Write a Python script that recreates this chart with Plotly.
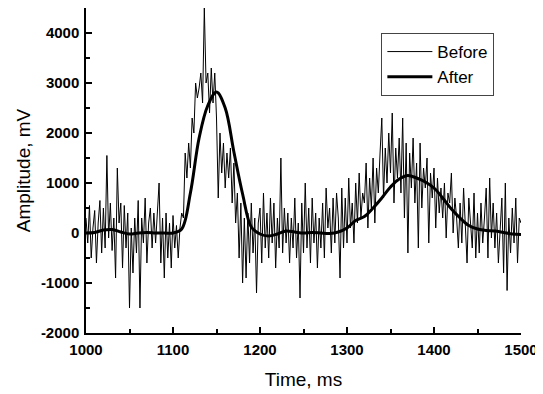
import plotly.graph_objects as go

# Time samples (ms)
time_before = list(range(1000, 1501, 2))
amp_before = [
    300, -200, 550, -500, 100, 450, -600, 200, 650, -400,
    500, -300, 1550, -100, 600, -350, 300, -900, 1300, 200,
    600, -700, 550, -300, 400, -1500, 100, -800, 300, -400,
    650, -1500, 300, -200, 700, -600, 200, 500, -300, 400,
    -200, 550, 1000, -600, 300, -900, 400, -500, 200, -700,
    350, -300, 150, -500, 100,
    400, 300, 1600, 1100, 1800, 1300, 2300, 2000, 3000, 2700,
    2900, 3200, 2600, 4500, 3000, 3200, 2400, 3300, 2600, 3200,
    2300, 700, 2000, 1200, 1800, 900, 1600, 1100, 1700, 600,
    1400, 200, 800, -500, 600, -1000, 300, -900, 400, -600,
    600, -400, 300, -1200, 200, 500, -600, 800, -300, 400,
    -500, 700, -200, 600, -700, 300, -300, 1500, -400, 500,
    -200, 400, -600, 300, -300, 700, -500, 200, -1300, 600,
    -400, 1000, -300, 500, -600, 700, -200, 400, -700, 300,
    -300, 600, -500, 900, 100, 500, -400, 700, -200, 800,
    300, -900, 900, -300, 700, -200, 1100, 100, 600, -200,
    1000, 200, 1200, 300, 800, 600, 1400, 100, 1100, 500,
    1500, 200, 1300, 800, 1600, 2300, 700, 1700, 1000, 2000,
    1200, 2400, 600, 1700, 1100, 1900, 800, 2300, 300, 1800,
    -400, 1600, 900, 1900, 600, 1400, -300, 1800, 500, 1300,
    900, 1500, -200, 1200, 700, 1300, 100, 1100, 400, 900,
    300, 1000, -100, 800, 600, 1200, 0, 700, 300, -300,
    600, -200, 900, 100, -600, 700, 200, -300, 800, -500,
    400, -400, 600, -200, 300, 900, -500, 1100, -100, 600,
    -300, 400, -600, 200, 700, -800, 1000, -1150, 300, -400,
    500, -200, 700, -600, 300, 200,
]

time_after = list(range(1000, 1501, 10))
amp_after = [
    0, 10, 60, 70, 20, -20, 0, 10, 0, 0,
    0, 80, 800, 1900, 2550, 2820, 2500, 1620, 780, 120,
    -20, -60, -20, 40, 20, 0, 10, 0, -10, 20,
    100, 250, 330, 500, 700, 920, 1080, 1150, 1100, 1020,
    900, 700, 480, 300, 150, 80, 50, 40, 10, -20,
    -30,
]

x_ticks = [1000, 1100, 1200, 1300, 1400, 1500]
y_ticks = [-2000, -1000, 0, 1000, 2000, 3000, 4000]

assert len(time_before) == len(amp_before)
assert len(time_after) == len(amp_after)

FONT = "Liberation Sans, Arial, sans-serif"

fig = go.Figure()
fig.add_trace(go.Scatter(
    x=time_before, y=amp_before, mode="lines", name="Before",
    line=dict(color="black", width=1),
))
fig.add_trace(go.Scatter(
    x=time_after, y=amp_after, mode="lines", name="After",
    line=dict(color="black", width=3, shape="spline", smoothing=1.0),
))

axis_common = dict(
    showgrid=False, zeroline=False, showline=True, linecolor="black",
    linewidth=1.5, ticks="inside", ticklen=6, tickwidth=1.5, tickcolor="black",
    mirror=False, automargin=False,
    tickfont=dict(family=FONT, size=15, color="black", weight="bold"),
)

fig.update_xaxes(
    range=[1000, 1500], tickvals=x_ticks,
    ticktext=[str(v) for v in x_ticks],
    ticklabelstandoff=2,
    minor=dict(dtick=50, ticks="inside", ticklen=4, tickwidth=1.5, tickcolor="black"),
    title=dict(text="Time, ms", font=dict(family=FONT, size=19, color="black"), standoff=16),
    **axis_common,
)
fig.update_yaxes(
    range=[-2000, 4500], tickvals=y_ticks,
    ticktext=[str(v) for v in y_ticks],
    ticklabelstandoff=2,
    minor=dict(dtick=500, ticks="inside", ticklen=4, tickwidth=1.5, tickcolor="black"),
    title=dict(text="Amplitude, mV", font=dict(family=FONT, size=19, color="black"), standoff=5),
    **axis_common,
)

# Page body adds an 8px offset; figure is sized so the plot lands where the reference has it
fig.update_layout(
    width=535, height=386,
    margin=dict(l=78, r=22, t=0, b=61, autoexpand=False),
    paper_bgcolor="white", plot_bgcolor="white",
    font=dict(family=FONT, color="black"),
    showlegend=True,
    legend=dict(
        x=0.679, y=0.923, xanchor="left", yanchor="top",
        bgcolor="white", bordercolor="#444", borderwidth=1,
        font=dict(family=FONT, size=17, color="black"),
        itemwidth=45, tracegroupgap=0,
    ),
)

fig.write_html("out.html")
